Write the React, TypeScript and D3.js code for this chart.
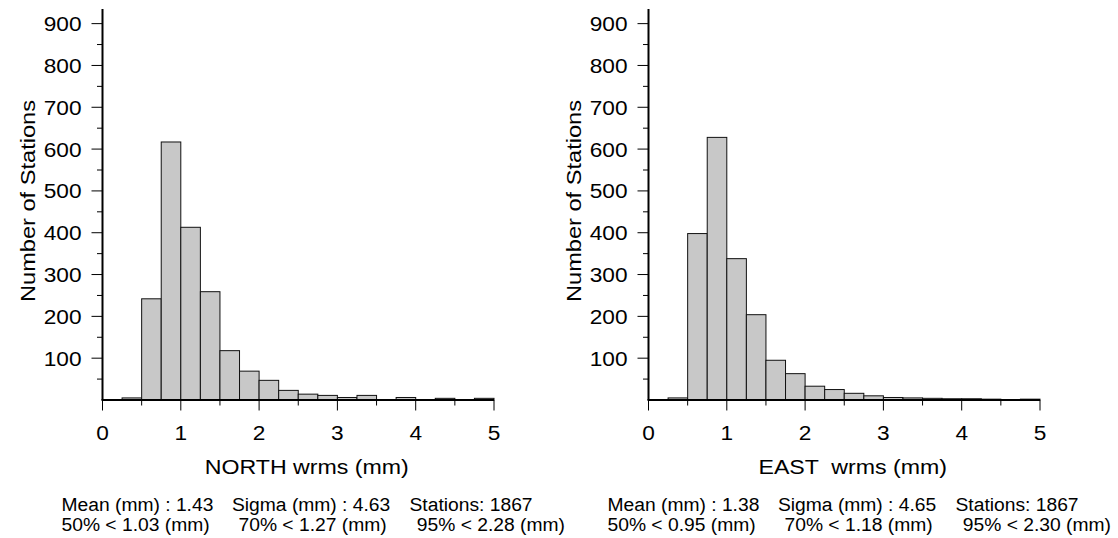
import React from "react";
import * as d3 from "d3";

const binStart = 0;
const binWidth = 0.25;
const northCounts = [0, 5, 242, 617, 413, 259, 118, 69, 47, 23, 14, 11, 6, 11, 1, 6, 1, 4, 1, 4];
const eastCounts = [0, 5, 398, 628, 338, 204, 95, 63, 33, 25, 16, 10, 6, 5, 4, 3, 3, 2, 1, 2];
const xTicks = [0, 1, 2, 3, 4, 5];
const xMinorTicks = [0.5, 1.5, 2.5, 3.5, 4.5];
const yTicks = [100, 200, 300, 400, 500, 600, 700, 800, 900];
const yMinorTicks = [50, 150, 250, 350, 450, 550, 650, 750, 850];
const northLabel = "NORTH wrms (mm)";
const eastLabel = "EAST  wrms (mm)";
const yLabel = "Number of Stations";
const northStats1 = ["Mean (mm) : 1.43", "Sigma (mm) : 4.63", "Stations: 1867"];
const northStats2 = ["50% < 1.03 (mm)", "70% < 1.27 (mm)", "95% < 2.28 (mm)"];
const eastStats1 = ["Mean (mm) : 1.38", "Sigma (mm) : 4.65", "Stations: 1867"];
const eastStats2 = ["50% < 0.95 (mm)", "70% < 1.18 (mm)", "95% < 2.30 (mm)"];

const FONT = "'Liberation Sans', Arial, Helvetica, sans-serif";

function SText({ x, y, size, sx, anchor = "start", rotate = 0, children }: any) {
  return (
    <text
      transform={`translate(${x},${y}) rotate(${rotate}) scale(${sx},1)`}
      fontSize={size}
      fontFamily={FONT}
      textAnchor={anchor}
      fill="#000"
      style={{ whiteSpace: "pre" }}
    >
      {children}
    </text>
  );
}

function Panel({ offset, counts, label, stats1, stats2 }: any) {
  const x = d3.scaleLinear().domain([0, 5]).range([102.5 + offset, 494 + offset]);
  const y = d3.scaleLinear().domain([0, 935]).range([400, 9]);
  const bins = counts.map((c: number, i: number) => ({
    x0: binStart + i * binWidth,
    x1: binStart + (i + 1) * binWidth,
    c,
  }));
  const statsX = [61.5, 232, 409.5].map((v) => v + offset);
  const stats2X = [61.5, 238.5, 416.8].map((v) => v + offset);
  return (
    <g>
      {bins
        .filter((b: any) => b.c > 0)
        .map((b: any, i: number) => (
          <rect
            key={i}
            x={x(b.x0)}
            y={y(b.c)}
            width={x(b.x1) - x(b.x0)}
            height={y(0) - y(b.c)}
            fill="#c8c8c8"
            stroke="#111"
            strokeWidth={1}
          />
        ))}
      {/* y axis */}
      <line x1={x(0)} x2={x(0)} y1={y(935)} y2={y(0)} stroke="#000" strokeWidth={2} />
      {yTicks.map((t) => (
        <g key={t}>
          <line x1={x(0) - 11} x2={x(0)} y1={y(t)} y2={y(t)} stroke="#000" strokeWidth={1} />
          <SText x={x(0) - 21} y={y(t) + 7.5} size={21} sx={1.08} anchor="end">
            {String(t)}
          </SText>
        </g>
      ))}
      {yMinorTicks.map((t) => (
        <line key={t} x1={x(0) - 5.5} x2={x(0)} y1={y(t)} y2={y(t)} stroke="#000" strokeWidth={1} />
      ))}
      {/* x axis */}
      <line x1={x(0) - 1} x2={x(5)} y1={y(0)} y2={y(0)} stroke="#000" strokeWidth={2} />
      {xTicks.map((t) => (
        <g key={t}>
          <line x1={x(t)} x2={x(t)} y1={y(0)} y2={y(0) + 10.5} stroke="#000" strokeWidth={1} />
          <SText x={x(t)} y={440} size={21} sx={1.08} anchor="middle">
            {String(t)}
          </SText>
        </g>
      ))}
      {xMinorTicks.map((t) => (
        <line key={t} x1={x(t)} x2={x(t)} y1={y(0)} y2={y(0) + 5.5} stroke="#000" strokeWidth={1} />
      ))}
      <SText x={(x(0) + x(5)) / 2 + 8.5} y={473.5} size={20.5} sx={1.13} anchor="middle">
        {label}
      </SText>
      <SText x={35 + offset} y={201} size={21} sx={1.124} anchor="middle" rotate={-90}>
        {yLabel}
      </SText>
      {stats1.map((s: string, i: number) => (
        <SText key={"a" + i} x={statsX[i]} y={510.5} size={18} sx={1.07}>
          {s}
        </SText>
      ))}
      {stats2.map((s: string, i: number) => (
        <SText key={"b" + i} x={stats2X[i]} y={530.5} size={18} sx={1.07}>
          {s}
        </SText>
      ))}
    </g>
  );
}

export default function App() {
  return (
    <svg
      width={1118}
      height={538}
      style={{ position: "absolute", left: 0, top: 0, background: "#fff" }}
    >
      <rect x={0} y={0} width={1118} height={538} fill="#fff" />
      <Panel offset={0} counts={northCounts} label={northLabel} stats1={northStats1} stats2={northStats2} />
      <Panel offset={546} counts={eastCounts} label={eastLabel} stats1={eastStats1} stats2={eastStats2} />
    </svg>
  );
}
